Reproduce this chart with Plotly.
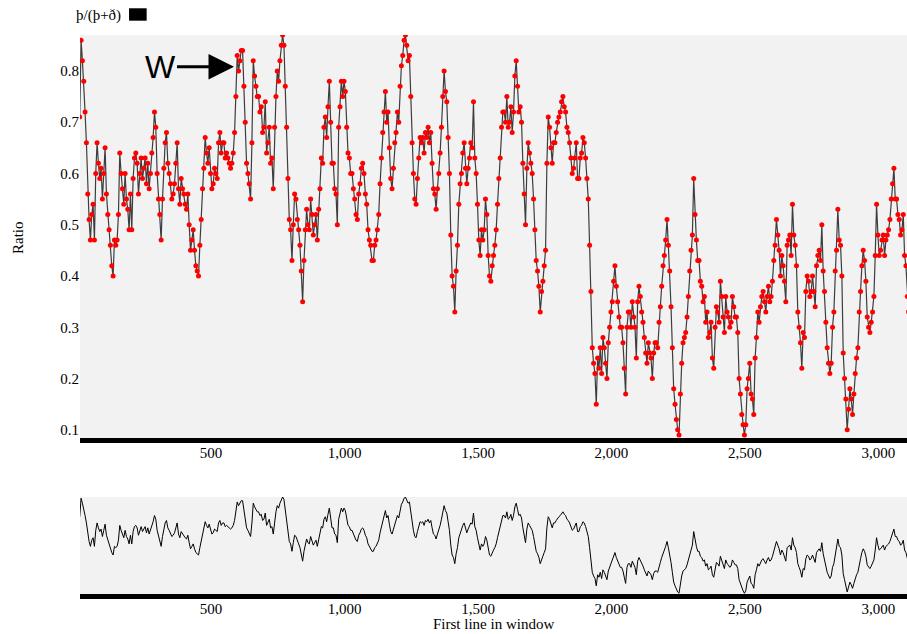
import plotly.graph_objects as go

# first line of each window (every 5th window)
first_line_start = 8
first_line_step = 5

ratio = [
    0.71, 0.86, 0.82, 0.78, 0.72, 0.66, 0.56, 0.51, 0.47, 0.52,
    0.54, 0.47, 0.60, 0.66, 0.62, 0.59, 0.61, 0.55, 0.60, 0.65,
    0.56, 0.52, 0.49, 0.46, 0.42, 0.40, 0.47, 0.46, 0.47, 0.52,
    0.64, 0.60, 0.57, 0.54, 0.60, 0.55, 0.53, 0.49, 0.56, 0.49,
    0.59, 0.63, 0.64, 0.62, 0.56, 0.60, 0.63, 0.59, 0.61, 0.63,
    0.58, 0.62, 0.57, 0.60, 0.64, 0.67, 0.72, 0.69, 0.60, 0.55,
    0.52, 0.47, 0.55, 0.61, 0.66, 0.68, 0.62, 0.60, 0.58, 0.55,
    0.56, 0.58, 0.62, 0.66, 0.57, 0.54, 0.59, 0.57, 0.56, 0.54,
    0.53, 0.56, 0.50, 0.45, 0.47, 0.49, 0.45, 0.42, 0.41, 0.40,
    0.46, 0.51, 0.57, 0.61, 0.67, 0.64, 0.62, 0.65, 0.60, 0.57,
    0.58, 0.61, 0.60, 0.59, 0.66, 0.68, 0.64, 0.66, 0.66, 0.63,
    0.64, 0.63, 0.62, 0.61, 0.62, 0.64, 0.68, 0.75, 0.83, 0.80,
    0.82, 0.84, 0.84, 0.77, 0.70, 0.62, 0.60, 0.58, 0.55, 0.66,
    0.82, 0.79, 0.77, 0.75, 0.75, 0.72, 0.73, 0.68, 0.69, 0.74,
    0.64, 0.66, 0.69, 0.62, 0.63, 0.57, 0.69, 0.75, 0.80, 0.78,
    0.82, 0.85, 0.87, 0.85, 0.77, 0.69, 0.59, 0.51, 0.49, 0.43,
    0.50, 0.56, 0.55, 0.51, 0.49, 0.46, 0.41, 0.35, 0.43, 0.49,
    0.53, 0.50, 0.49, 0.55, 0.52, 0.48, 0.50, 0.52, 0.47, 0.53,
    0.57, 0.63, 0.62, 0.69, 0.71, 0.67, 0.73, 0.78, 0.70, 0.62,
    0.62, 0.57, 0.56, 0.50, 0.69, 0.73, 0.78, 0.75, 0.78, 0.76,
    0.69, 0.64, 0.63, 0.60, 0.60, 0.57, 0.55, 0.52, 0.51, 0.56,
    0.58, 0.61, 0.62, 0.60, 0.56, 0.54, 0.49, 0.47, 0.46, 0.43,
    0.43, 0.46, 0.47, 0.49, 0.52, 0.58, 0.63, 0.68, 0.72, 0.76,
    0.70, 0.72, 0.65, 0.59, 0.57, 0.61, 0.66, 0.68, 0.72, 0.70,
    0.77, 0.81, 0.83, 0.86, 0.87, 0.85, 0.82, 0.83, 0.75, 0.66,
    0.60, 0.55, 0.54, 0.59, 0.63, 0.67, 0.66, 0.67, 0.64, 0.68,
    0.67, 0.69, 0.66, 0.68, 0.62, 0.57, 0.56, 0.53, 0.57, 0.60,
    0.64, 0.69, 0.75, 0.80, 0.76, 0.74, 0.67, 0.60, 0.48, 0.40,
    0.38, 0.33, 0.41, 0.46, 0.54, 0.58, 0.60, 0.64, 0.66, 0.61,
    0.58, 0.61, 0.63, 0.66, 0.65, 0.74, 0.63, 0.60, 0.54, 0.47,
    0.44, 0.49, 0.47, 0.49, 0.55, 0.52, 0.44, 0.40, 0.39, 0.42,
    0.44, 0.46, 0.49, 0.54, 0.59, 0.63, 0.69, 0.72, 0.72, 0.70,
    0.75, 0.69, 0.70, 0.73, 0.68, 0.72, 0.79, 0.82, 0.77, 0.72,
    0.73, 0.70, 0.62, 0.56, 0.50, 0.61, 0.66, 0.64, 0.62, 0.60,
    0.55, 0.49, 0.43, 0.41, 0.38, 0.33, 0.37, 0.39, 0.42, 0.45,
    0.62, 0.71, 0.69, 0.65, 0.62, 0.66, 0.66, 0.68, 0.70, 0.71,
    0.72, 0.74, 0.75, 0.73, 0.72, 0.69, 0.68, 0.66, 0.63, 0.60,
    0.61, 0.63, 0.66, 0.59, 0.59, 0.63, 0.64, 0.67, 0.66, 0.63,
    0.59, 0.55, 0.46, 0.37, 0.26, 0.23, 0.21, 0.15, 0.24, 0.22,
    0.26, 0.21, 0.28, 0.26, 0.23, 0.20, 0.27, 0.30, 0.33, 0.35,
    0.39, 0.42, 0.38, 0.35, 0.32, 0.30, 0.30, 0.27, 0.22, 0.17,
    0.30, 0.33, 0.33, 0.30, 0.35, 0.32, 0.30, 0.24, 0.35, 0.38,
    0.36, 0.33, 0.31, 0.28, 0.25, 0.23, 0.27, 0.25, 0.24, 0.20,
    0.25, 0.27, 0.27, 0.26, 0.31, 0.34, 0.38, 0.42, 0.44, 0.47,
    0.51, 0.46, 0.41, 0.34, 0.26, 0.18, 0.15, 0.12, 0.10, 0.09,
    0.17, 0.23, 0.27, 0.28, 0.29, 0.32, 0.36, 0.41, 0.45, 0.48,
    0.59, 0.52, 0.47, 0.43, 0.43, 0.39, 0.38, 0.35, 0.36, 0.31,
    0.33, 0.28, 0.29, 0.31, 0.24, 0.22, 0.30, 0.34, 0.33, 0.31,
    0.39, 0.36, 0.32, 0.29, 0.36, 0.33, 0.32, 0.30, 0.31, 0.36,
    0.34, 0.32, 0.32, 0.29, 0.20, 0.17, 0.13, 0.11, 0.09, 0.11,
    0.18, 0.20, 0.23, 0.17, 0.16, 0.13, 0.24, 0.28, 0.33, 0.31,
    0.34, 0.36, 0.37, 0.35, 0.33, 0.36, 0.38, 0.35, 0.36, 0.39,
    0.43, 0.46, 0.51, 0.48, 0.45, 0.40, 0.44, 0.42, 0.39, 0.35,
    0.46, 0.47, 0.48, 0.44, 0.54, 0.48, 0.46, 0.42, 0.33, 0.30,
    0.27, 0.22, 0.29, 0.28, 0.37, 0.40, 0.39, 0.36, 0.37, 0.40,
    0.37, 0.34, 0.42, 0.44, 0.45, 0.43, 0.50, 0.41, 0.37, 0.31,
    0.26, 0.23, 0.21, 0.23, 0.30, 0.33, 0.41, 0.45, 0.53, 0.47,
    0.46, 0.40, 0.25, 0.20, 0.16, 0.10, 0.14, 0.18, 0.16, 0.13,
    0.17, 0.21, 0.24, 0.26, 0.33, 0.37, 0.42, 0.45, 0.43, 0.39,
    0.32, 0.30, 0.29, 0.31, 0.33, 0.36, 0.44, 0.54, 0.48, 0.44,
    0.45, 0.47, 0.48, 0.44, 0.47, 0.48, 0.49, 0.51, 0.55, 0.58,
    0.61, 0.55, 0.55, 0.52, 0.51, 0.48, 0.49, 0.52, 0.44, 0.42,
    0.36, 0.33,
]
first_line = [first_line_start + first_line_step * i for i in range(len(ratio))]

x_ticks = [500, 1000, 1500, 2000, 2500, 3000]
y_ticks = [0.1, 0.2, 0.3, 0.4, 0.5, 0.6, 0.7, 0.8]
series_name = "þ/(þ+ð)"
x_title = "First line in window"
y_title = "Ratio"
note_text = "W"
note_line, note_ratio = 586, 0.808

x_range = [9, 3107]
y_range = [0.084, 0.87]

serif = "Liberation Serif"
txt = dict(family=serif, size=15, color="black")

fig = go.Figure()
fig.add_trace(go.Scatter(
    x=first_line, y=ratio, mode="lines+markers", name=series_name,
    line=dict(color="rgba(0,0,0,0.75)", width=1.2),
    marker=dict(color="red", size=5, line=dict(width=0)),
    xaxis="x", yaxis="y", showlegend=False,
))
fig.add_trace(go.Scatter(
    x=first_line, y=ratio, mode="lines",
    line=dict(color="black", width=1),
    xaxis="x2", yaxis="y2", showlegend=False,
))

axis_common = dict(
    showgrid=False, zeroline=False, showline=True, linecolor="black",
    linewidth=5, ticks="", tickfont=txt, automargin=False,
    ticklabelstandoff=-3,
)

fig.update_layout(
    width=907, height=634,
    margin=dict(l=80, r=0, t=35, b=40),
    paper_bgcolor="white", plot_bgcolor="#f2f2f2",
    xaxis=dict(domain=[0, 1], range=x_range, anchor="y", tickvals=x_ticks,
               tickformat=",", **axis_common),
    yaxis=dict(domain=[0.279, 1.0], range=y_range, tickvals=y_ticks,
               showgrid=False, zeroline=False, showline=False, ticks="",
               tickfont=txt, automargin=False),
    xaxis2=dict(domain=[0, 1], range=x_range, anchor="y2", tickvals=x_ticks,
                tickformat=",", **axis_common),
    yaxis2=dict(domain=[0, 0.1735], range=y_range, showticklabels=False,
                showgrid=False, zeroline=False, showline=False, ticks="",
                automargin=False),
    shapes=[dict(type="rect", xref="paper", yref="paper",
                 x0=0.0593, x1=0.0806, y0=1.0256, y1=1.0478,
                 fillcolor="black", line=dict(width=0))],
    annotations=[
        dict(text=series_name, xref="paper", yref="paper", x=0.052, y=1.0345,
             xanchor="right", yanchor="middle", showarrow=False, font=txt),
        dict(text=y_title, xref="paper", yref="paper", x=-0.075, y=0.6386,
             xanchor="center", yanchor="middle", textangle=-90,
             showarrow=False, font=txt),
        dict(text=x_title, xref="paper", yref="paper", x=0.5, y=-0.0537,
             xanchor="center", yanchor="middle", showarrow=False, font=txt),
        dict(text=note_text, x=note_line, y=note_ratio, xref="x", yref="y",
             showarrow=True, ax=-74, ay=0, arrowhead=2, arrowsize=1.7,
             arrowwidth=3, arrowcolor="black",
             font=dict(family="Liberation Sans", size=32, color="black")),
    ],
)

fig.write_html(
    "out.html",
    config={"displayModeBar": False},
    post_script="document.body.style.margin='0px';document.body.style.overflow='hidden';",
)
